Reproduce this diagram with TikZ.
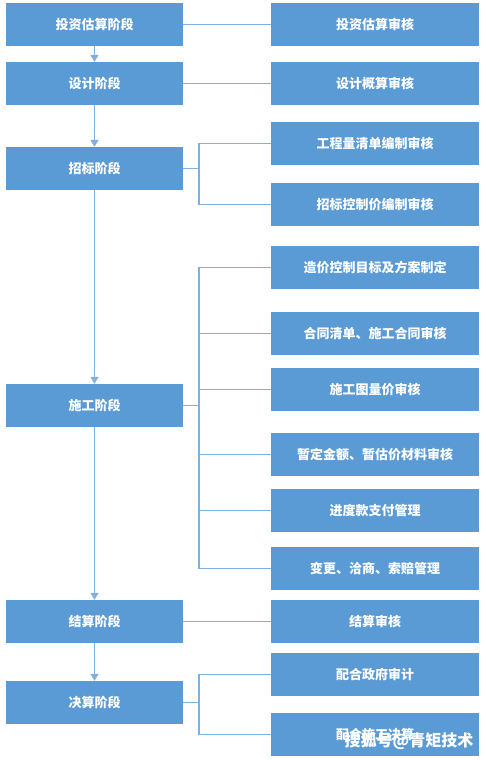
\documentclass[tikz,border=0pt]{standalone}
\usepackage{fontspec}
\setmainfont{Noto Sans CJK SC}
\usetikzlibrary{arrows.meta}
\definecolor{boxblue}{HTML}{5B9BD5}
\definecolor{lineblue}{HTML}{7FB0DF}
\tikzset{
    stage/.style={fill=boxblue, text=white, minimum width=177pt, minimum height=43pt,
        inner sep=0pt, font=\fontsize{13}{15}\selectfont\bfseries},
    check/.style={stage, minimum width=208pt},
    link/.style={draw=lineblue, line width=1.4pt},
    flow/.style={link, -{Triangle[width=8pt,length=7pt]}}
}

\begin{document}
\begin{tikzpicture}[x=1pt, y=-1pt]
    \useasboundingbox (0,0) rectangle (486,760);

    % stages
    \draw(94.5,24.5) node[stage] (S1) {投资估算阶段};
    \draw(94.5,83.5) node[stage] (S2) {设计阶段};
    \draw(94.5,168.5) node[stage] (S3) {招标阶段};
    \draw(94.5,405.5) node[stage] (S4) {施工阶段};
    \draw(94.5,621.5) node[stage] (S5) {结算阶段};
    \draw(94.5,702.5) node[stage] (S6) {决算阶段};

    % checks
    \draw(375,24.5) node[check] (C1) {投资估算审核};
    \draw(375,83.5) node[check] (C2) {设计概算审核};
    \draw(375,143.5) node[check] (C3) {工程量清单编制审核};
    \draw(375,204.5) node[check] (C4) {招标控制价编制审核};
    \draw(375,267.5) node[check] (C5) {造价控制目标及方案制定};
    \draw(375,333.5) node[check] (C6) {合同清单、施工合同审核};
    \draw(375,389.5) node[check] (C7) {施工图量价审核};
    \draw(375,454.5) node[check] (C8) {暂定金额、暂估价材料审核};
    \draw(375,510.5) node[check] (C9) {进度款支付管理};
    \draw(375,568.5) node[check] (C10) {变更、洽商、索赔管理};
    \draw(375,621.5) node[check] (C11) {结算审核};
    \draw(375,674.5) node[check] (C12) {配合政府审计};
    \draw(375,734.5) node[check] (C13) {配合施工决算};

    \coordinate (bus) at (199,0);

    % stage flow
    \draw[flow] (S1) -- (S2);
    \draw[flow] (S2) -- (S3);
    \draw[flow] (S3) -- (S4);
    \draw[flow] (S4) -- (S5);
    \draw[flow] (S5) -- (S6);

    % single links
    \draw[link] (S1) -- (C1);
    \draw[link] (S2) -- (C2);
    \draw[link] (S5) -- (C11);

    % brackets
    \draw[link] (S3.east) -- (S3.east -| bus);
    \draw[link] (C3.west) -- (C3.west -| bus) -- (C4.west -| bus) -- (C4.west);
    \draw[link] (S4.east) -- (S4.east -| bus);
    \draw[link] (C5.west) -- (C5.west -| bus) -- (C10.west -| bus) -- (C10.west);
    \foreach \c in {C6,C7,C8,C9}
        \draw[link] (\c.west -| bus) -- (\c.west);
    \draw[link] (S6.east) -- (S6.east -| bus);
    \draw[link] (C12.west) -- (C12.west -| bus) -- (C13.west -| bus) -- (C13.west);

    % watermark
    \draw(409,741) node[text=white, font=\fontsize{16}{18}\selectfont\bfseries] (wm) {搜狐号@青矩技术};

\end{tikzpicture}
\end{document}
